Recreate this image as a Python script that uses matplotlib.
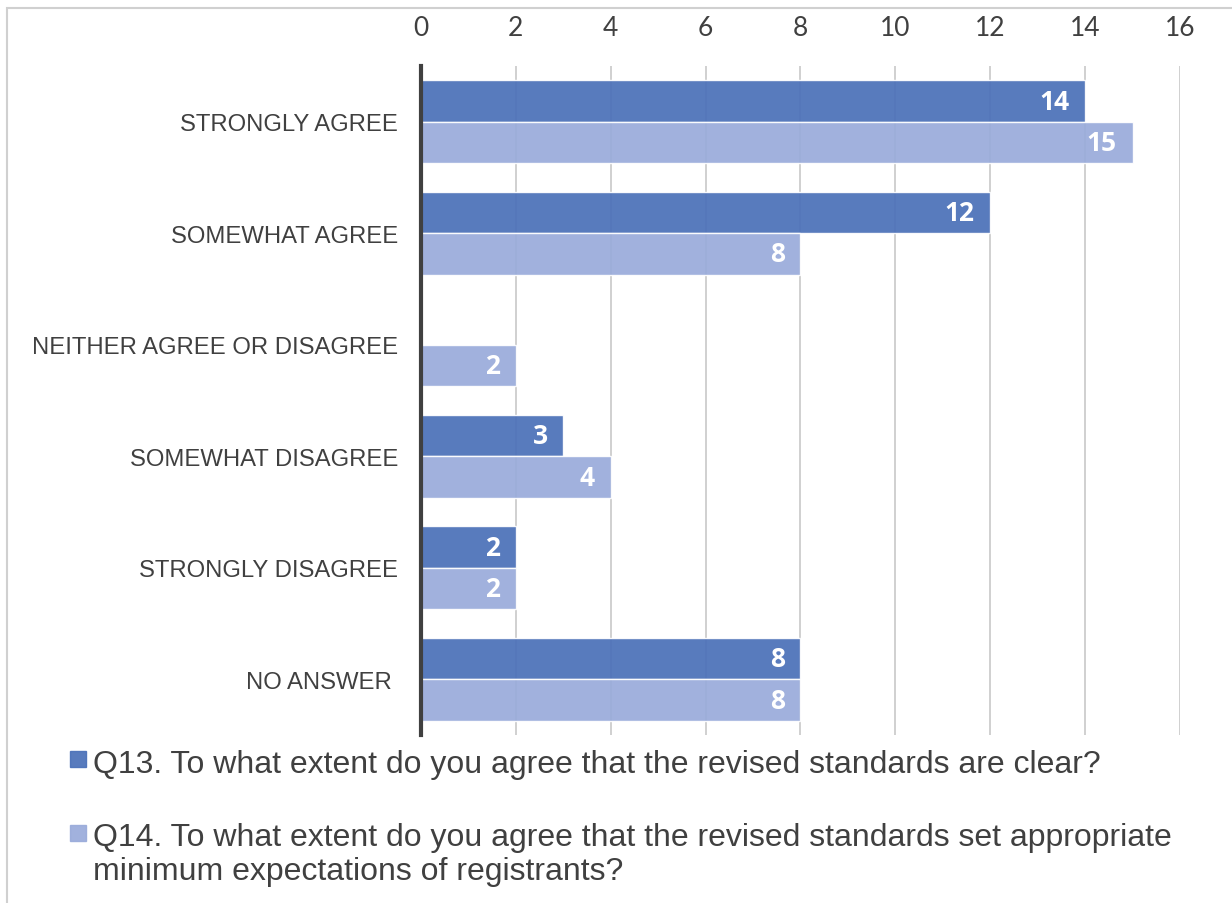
import matplotlib.pyplot as plt
from matplotlib.patches import Rectangle
import numpy as np

categories = ['STRONGLY AGREE', 'SOMEWHAT AGREE', 'NEITHER AGREE OR DISAGREE',
              'SOMEWHAT DISAGREE', 'STRONGLY DISAGREE', 'NO ANSWER ']
q13 = [14, 12, 0, 3, 2, 8]
q14 = [15, 8, 2, 4, 2, 8]
series_names = ['Q13. To what extent do you agree that the revised standards are clear?',
                'Q14. To what extent do you agree that the revised standards set appropriate\nminimum expectations of registrants?']
ticks = [0, 2, 4, 6, 8, 10, 12, 14, 16]

c13 = '#4a70b8'
c14 = '#99abda'
W, H = 1232, 904

fig = plt.figure(figsize=(W / 100, H / 100), dpi=100)
ax = fig.add_axes([0.3417, 0.1858, 0.6161, 0.7401])

# chart border
fig.patches.append(Rectangle((7 / W, -0.05), 1.1, 1 - 9 / H + 0.05,
                             transform=fig.transFigure, fill=False,
                             edgecolor='#d0d0d0', linewidth=1.5))

y = np.arange(len(categories))
h = 0.372
b1 = ax.barh(y - h / 2, q13, height=h, color=c13, alpha=0.92, edgecolor='white', linewidth=1, zorder=2)
b2 = ax.barh(y + h / 2, q14, height=h, color=c14, alpha=0.92, edgecolor='white', linewidth=1, zorder=2)

for bars, vals in ((b1, q13), (b2, q14)):
    for bar, v in zip(bars, vals):
        if v == 0:
            continue
        ax.text(v - 0.33, bar.get_y() + bar.get_height() / 2, str(v),
                ha='right', va='center', color='white', fontsize=19,
                fontweight='bold', family='Open Sans', zorder=3)

ax.set_ylim(len(categories) - 0.5, -0.5)
ax.set_xlim(0, 16)
ax.set_xticks(ticks)
ax.xaxis.tick_top()
ax.tick_params(axis='x', length=0, pad=19, labelsize=19, labelcolor='#404040')
for lbl in ax.get_xticklabels():
    lbl.set_family('Lato')
ax.set_yticks(y)
ax.set_yticklabels(categories, family='Liberation Sans', fontsize=17.2, color='#404040')
ax.tick_params(axis='y', length=0, pad=16.5)

ax.grid(axis='x', color='#c8c8c8', linewidth=1.2, zorder=0)
ax.set_axisbelow(True)
for s in ['top', 'right', 'bottom']:
    ax.spines[s].set_visible(False)
ax.spines['left'].set_linewidth(3)
ax.spines['left'].set_color('#404040')
ax.spines['left'].set_zorder(4)

# legend below the plot: square key + text (pixel rows from the top)
# key_y: first-line baseline, text_y: last-line baseline
for name, col, key_y, text_y in ((series_names[0], c13, 773, 773),
                                 (series_names[1], c14, 847, 880)):
    fig.patches.append(Rectangle((70 / W, 1 - (key_y - 5) / H), 16 / W, 16 / H,
                                 transform=fig.transFigure, color=col, alpha=0.92))
    fig.text(93 / W, 1 - text_y / H, name, ha='left', va='baseline',
             family='Liberation Sans', fontsize=23, color='#404040',
             linespacing=1.155)

fig.savefig('out.png', dpi=100)
